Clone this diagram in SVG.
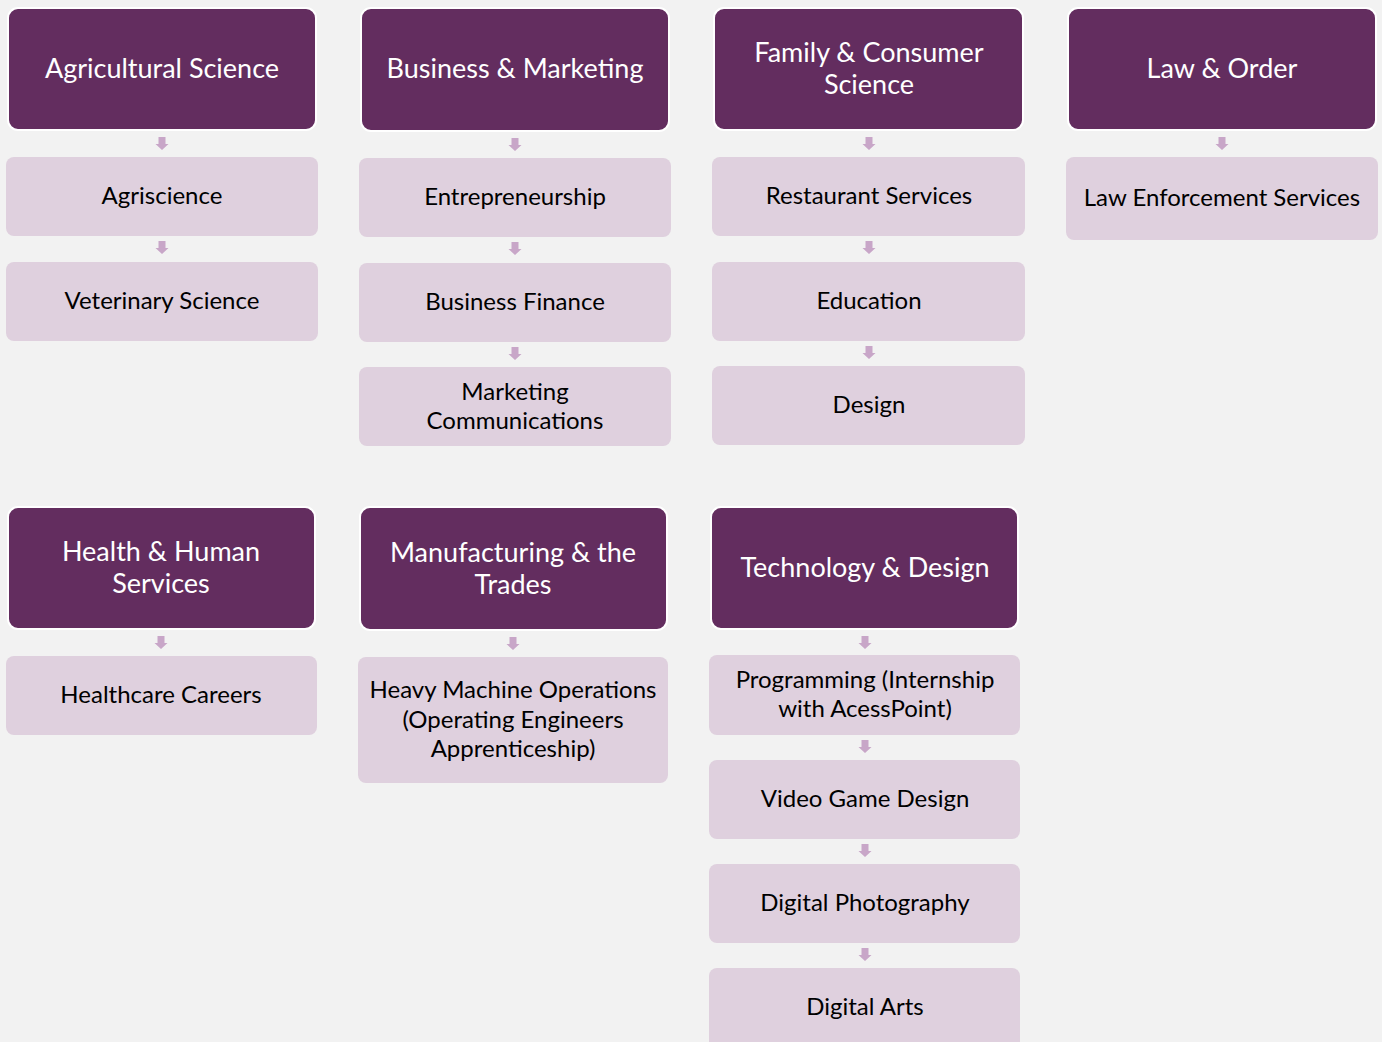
<svg xmlns="http://www.w3.org/2000/svg" width="1382" height="1042" viewBox="0 0 1382 1042">
<style>
.bg{fill:#f2f2f2}
.h{fill:#632d5f;stroke:#ffffff;stroke-width:2}
.b{fill:#dfd0de}
.ht{font-family:Lato,"Open Sans",sans-serif;font-size:27px;fill:#ffffff;text-anchor:middle}
.bt{font-family:Lato,"Open Sans",sans-serif;font-size:24px;fill:#000000;text-anchor:middle}
.a{fill:#c8a6c8}
</style>
<defs>
<path id="arr" d="M-3.5,0 H3.5 V7 H6.5 L0,13 L-6.5,7 H-3.5 Z"/>
</defs>
<rect class="bg" x="0" y="0" width="1382" height="1042"/>
<g id="connectors">
<use class="a" href="#arr" x="162" y="137"/>
<use class="a" href="#arr" x="162" y="241"/>
<use class="a" href="#arr" x="515" y="138"/>
<use class="a" href="#arr" x="515" y="242"/>
<use class="a" href="#arr" x="515" y="347"/>
<use class="a" href="#arr" x="869" y="137"/>
<use class="a" href="#arr" x="869" y="241"/>
<use class="a" href="#arr" x="869" y="346"/>
<use class="a" href="#arr" x="1222" y="137"/>
<use class="a" href="#arr" x="161" y="636"/>
<use class="a" href="#arr" x="513" y="637"/>
<use class="a" href="#arr" x="865" y="636"/>
<use class="a" href="#arr" x="865" y="740"/>
<use class="a" href="#arr" x="865" y="844"/>
<use class="a" href="#arr" x="865" y="948"/>
</g>
<g id="n-agri"><rect class="h" x="8" y="8" width="308" height="122" rx="10"/><text class="ht" x="162" y="78">Agricultural Science</text></g>
<g id="n-agriscience"><rect class="b" x="6" y="157" width="312" height="79" rx="8"/><text class="bt" x="162" y="204">Agriscience</text></g>
<g id="n-vet"><rect class="b" x="6" y="262" width="312" height="79" rx="8"/><text class="bt" x="162" y="309">Veterinary Science</text></g>

<g id="n-bus"><rect class="h" x="361" y="8" width="308" height="123" rx="10"/><text class="ht" x="515" y="78">Business &amp; Marketing</text></g>
<g id="n-entre"><rect class="b" x="359" y="158" width="312" height="79" rx="8"/><text class="bt" x="515" y="205">Entrepreneurship</text></g>
<g id="n-busfin"><rect class="b" x="359" y="263" width="312" height="79" rx="8"/><text class="bt" x="515" y="310">Business Finance</text></g>
<g id="n-mkt"><rect class="b" x="359" y="367" width="312" height="79" rx="8"/><text class="bt" x="515" y="400">Marketing</text><text class="bt" x="515" y="429">Communications</text></g>

<g id="n-fcs"><rect class="h" x="714" y="8" width="309" height="122" rx="10"/><text class="ht" x="869" y="62">Family &amp; Consumer</text><text class="ht" x="869" y="94">Science</text></g>
<g id="n-rest"><rect class="b" x="712" y="157" width="313" height="79" rx="8"/><text class="bt" x="869" y="204">Restaurant Services</text></g>
<g id="n-edu"><rect class="b" x="712" y="262" width="313" height="79" rx="8"/><text class="bt" x="869" y="309">Education</text></g>
<g id="n-design"><rect class="b" x="712" y="366" width="313" height="79" rx="8"/><text class="bt" x="869" y="413">Design</text></g>

<g id="n-law"><rect class="h" x="1068" y="8" width="308" height="122" rx="10"/><text class="ht" x="1222" y="78">Law &amp; Order</text></g>
<g id="n-lawenf"><rect class="b" x="1066" y="157" width="312" height="83" rx="8"/><text class="bt" x="1222" y="206">Law Enforcement Services</text></g>

<g id="n-health"><rect class="h" x="8" y="507" width="307" height="122" rx="10"/><text class="ht" x="161" y="561">Health &amp; Human</text><text class="ht" x="161" y="593">Services</text></g>
<g id="n-hc"><rect class="b" x="6" y="656" width="311" height="79" rx="8"/><text class="bt" x="161" y="703">Healthcare Careers</text></g>

<g id="n-mfg"><rect class="h" x="360" y="507" width="307" height="123" rx="10"/><text class="ht" x="513" y="562">Manufacturing &amp; the</text><text class="ht" x="513" y="594">Trades</text></g>
<g id="n-heavy"><rect class="b" x="358" y="657" width="310" height="126" rx="8"/><text class="bt" x="513" y="698">Heavy Machine Operations</text><text class="bt" x="513" y="728">(Operating Engineers</text><text class="bt" x="513" y="757">Apprenticeship)</text></g>

<g id="n-tech"><rect class="h" x="711" y="507" width="307" height="122" rx="10"/><text class="ht" x="865" y="577">Technology &amp; Design</text></g>
<g id="n-prog"><rect class="b" x="709" y="655" width="311" height="80" rx="8"/><text class="bt" x="865" y="688">Programming (Internship</text><text class="bt" x="865" y="717">with AcessPoint)</text></g>
<g id="n-vgd"><rect class="b" x="709" y="760" width="311" height="79" rx="8"/><text class="bt" x="865" y="807">Video Game Design</text></g>
<g id="n-photo"><rect class="b" x="709" y="864" width="311" height="79" rx="8"/><text class="bt" x="865" y="911">Digital Photography</text></g>
<g id="n-arts"><rect class="b" x="709" y="968" width="311" height="90" rx="8"/><text class="bt" x="865" y="1015">Digital Arts</text></g>
</svg>
